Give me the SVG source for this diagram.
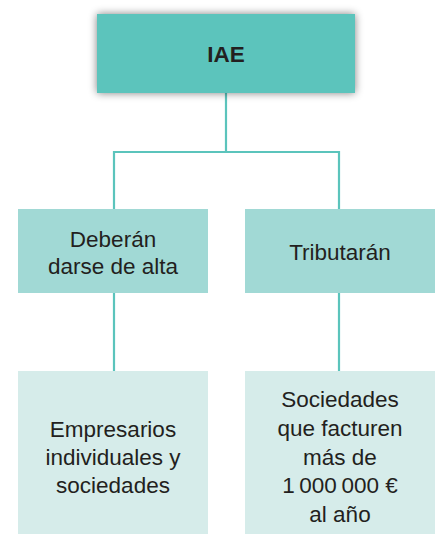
<svg xmlns="http://www.w3.org/2000/svg" width="441" height="534" viewBox="0 0 441 534">
<defs>
<filter id="sh" x="-10%" y="-20%" width="120%" height="140%">
<feGaussianBlur in="SourceAlpha" stdDeviation="4"/>
<feComponentTransfer><feFuncA type="linear" slope="0.5"/></feComponentTransfer>
<feMerge><feMergeNode/><feMergeNode in="SourceGraphic"/></feMerge>
</filter>
</defs>
<style>
.t{font-family:"Liberation Sans",Arial,sans-serif;font-size:22.5px;fill:#231f20;text-anchor:middle}
.b{font-weight:bold}
.c{fill:none;stroke:#5bc4bc;stroke-width:2.2}
.top{fill:#5bc4bc}
.mid{fill:#a1d9d5}
.low{fill:#d6ecea}
</style>
<g id="connectors">
<path class="c" d="M226 92V152M114 152H339M114 151V209M339 151V209M114 293V371M339 293V371"/>
</g>
<g id="iae">
<rect class="top" x="97" y="14" width="258" height="79" filter="url(#sh)"/>
<text class="t b" x="226" y="62" font-size="22.5">IAE</text>
</g>
<g id="deberan">
<rect class="mid" x="18" y="209" width="190" height="84"/>
<text class="t" x="113" y="247">Deberán</text>
<text class="t" x="113" y="274">darse de alta</text>
</g>
<g id="tributaran">
<rect class="mid" x="245" y="209" width="190" height="84"/>
<text class="t" x="340" y="260">Tributarán</text>
</g>
<g id="empresarios">
<rect class="low" x="18" y="371" width="190" height="163"/>
<text class="t" x="113" y="437">Empresarios</text>
<text class="t" x="113" y="465">individuales y</text>
<text class="t" x="113" y="493">sociedades</text>
</g>
<g id="sociedades">
<rect class="low" x="245" y="371" width="190" height="163"/>
<text class="t" x="340" y="407">Sociedades</text>
<text class="t" x="340" y="436">que facturen</text>
<text class="t" x="340" y="465">más de</text>
<text class="t" x="340" y="493">1&#8201;000&#8201;000 €</text>
<text class="t" x="340" y="522">al año</text>
</g>
</svg>
